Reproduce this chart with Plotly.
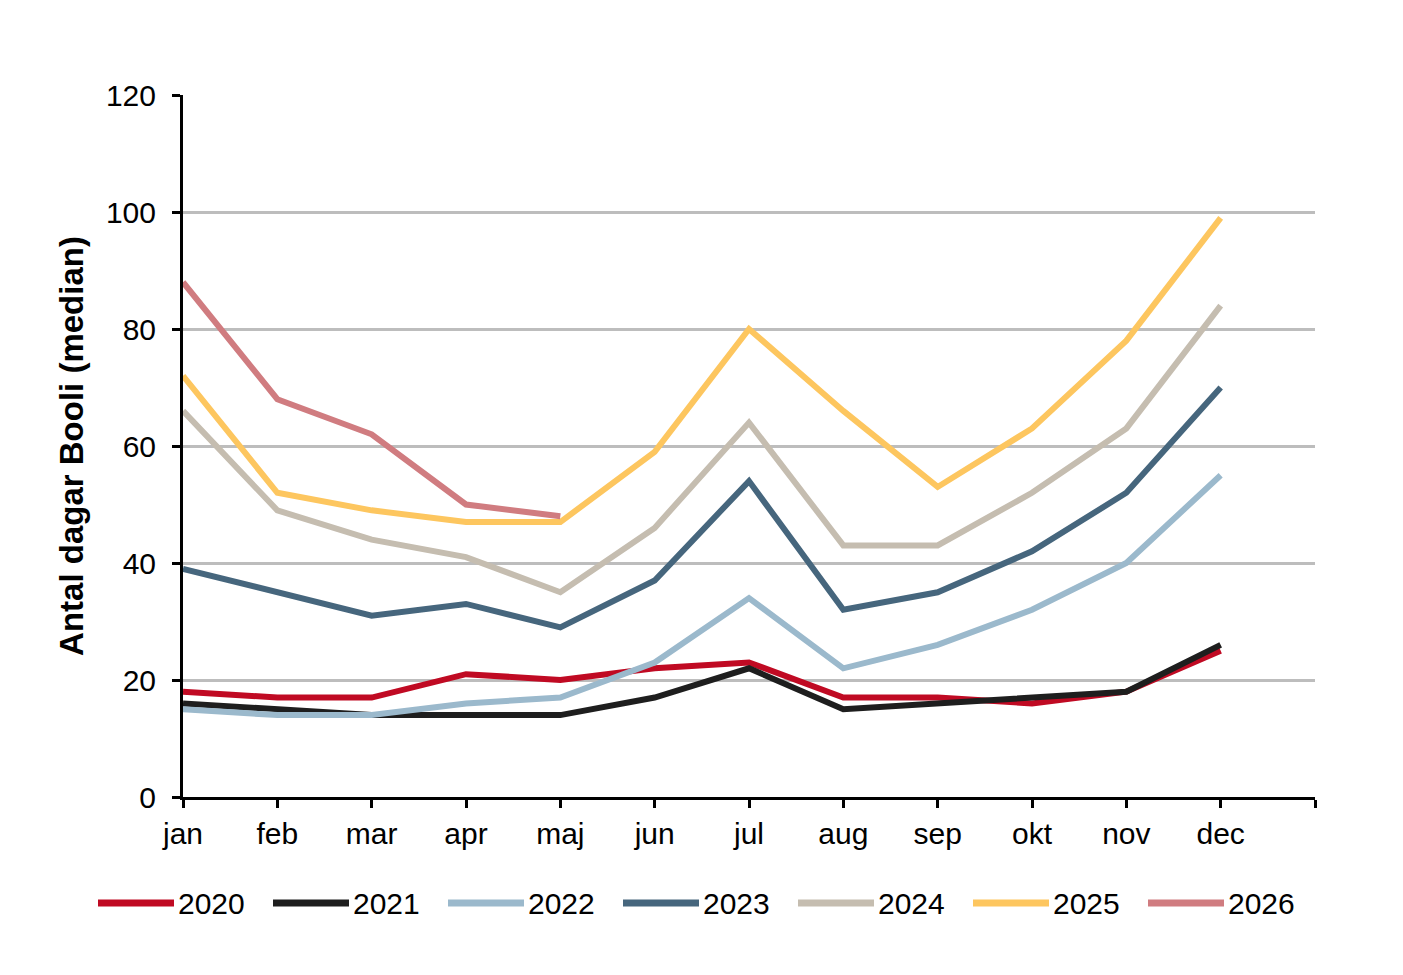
import plotly.graph_objects as go

months = ["jan", "feb", "mar", "apr", "maj", "jun", "jul", "aug", "sep", "okt", "nov", "dec"]
y2020 = [18, 17, 17, 21, 20, 22, 23, 17, 17, 16, 18, 25]
y2021 = [16, 15, 14, 14, 14, 17, 22, 15, 16, 17, 18, 26]
y2022 = [15, 14, 14, 16, 17, 23, 34, 22, 26, 32, 40, 55]
y2023 = [39, 35, 31, 33, 29, 37, 54, 32, 35, 42, 52, 70]
y2024 = [66, 49, 44, 41, 35, 46, 64, 43, 43, 52, 63, 84]
y2025 = [72, 52, 49, 47, 47, 59, 80, 66, 53, 63, 78, 99]
y2026 = [88, 68, 62, 50, 48]

series = [
    ("2020", y2020, "#C00A23"),
    ("2021", y2021, "#1E1E1E"),
    ("2022", y2022, "#9BB9CC"),
    ("2023", y2023, "#46667D"),
    ("2024", y2024, "#C5BDB0"),
    ("2025", y2025, "#FDC65F"),
    ("2026", y2026, "#D07C80"),
]

W, H = 1403, 975
ML, MR, MT, MB = 183, 88, 95, 178
PW, PH = W - ML - MR, H - MT - MB

fig = go.Figure()
for name, vals, color in series:
    fig.add_trace(go.Scatter(
        x=list(range(len(vals))), y=vals, name=name, mode="lines",
        line=dict(color=color, width=6),
    ))

# custom legend below the plot
def px2x(px):
    return (px - ML) / PW

def py2y(py):
    return (H - MB - py) / PH

leg_y = py2y(903)
shapes = []
annotations = []
for i, (name, vals, color) in enumerate(series):
    x0 = 98 + i * 175
    shapes.append(dict(type="line", xref="paper", yref="paper",
                       x0=px2x(x0), x1=px2x(x0 + 76), y0=leg_y, y1=leg_y,
                       line=dict(color=color, width=7)))
    annotations.append(dict(xref="paper", yref="paper", x=px2x(x0 + 78), y=leg_y,
                            text=name, showarrow=False, xanchor="left", yanchor="middle",
                            font=dict(size=30, color="black")))

font_family = "Liberation Sans, Arial, sans-serif"
fig.update_layout(
    width=W, height=H,
    margin=dict(l=ML, r=MR, t=MT, b=MB),
    paper_bgcolor="white", plot_bgcolor="white",
    font=dict(family=font_family, size=30, color="black"),
    showlegend=False,
    shapes=shapes,
    annotations=annotations,
    xaxis=dict(
        range=[0, 12], tickmode="array", tickvals=list(range(13)),
        ticktext=months + [""], showgrid=False, zeroline=False,
        showline=True, linecolor="black", linewidth=3,
        ticks="outside", ticklen=8, tickwidth=3, tickcolor="black",
        tickfont=dict(size=30), fixedrange=True,
    ),
    yaxis=dict(
        range=[0, 120], tickmode="array", tickvals=[0, 20, 40, 60, 80, 100, 120],
        showgrid=True, gridcolor="#BDBDBD", gridwidth=2.5, zeroline=False,
        showline=True, linecolor="black", linewidth=3,
        ticks="outside", ticklen=8, tickwidth=3, tickcolor="black",
        tickfont=dict(size=30), ticklabelstandoff=10,
        title=dict(text="<b>Antal dagar Booli (median)</b>", font=dict(size=33), standoff=13),
    ),
)

fig.write_html("out.html")
